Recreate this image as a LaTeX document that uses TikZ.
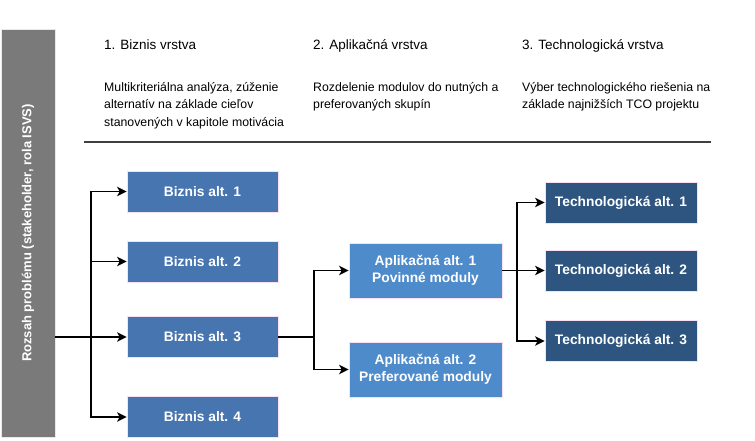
\documentclass[tikz,border=0pt]{standalone}
\usepackage{fontspec}
\setmainfont{Liberation Sans}
\usetikzlibrary{arrows.meta}
\definecolor{bizblue}{HTML}{4675B0}
\definecolor{appblue}{HTML}{4E8BCB}
\definecolor{techblue}{HTML}{2E5580}
\definecolor{bargray}{HTML}{7A7A7A}
\definecolor{edgepink}{HTML}{F8E0F1}
\begin{document}
\begin{tikzpicture}[x=1pt,y=-1pt,>={Stealth[length=9.5pt,width=9.5pt,inset=2.5pt]},
		alt/.style={draw=edgepink,line width=0.8pt,text=white,font=\bfseries\fontsize{13.8}{17.5}\selectfont,align=center,inner sep=0pt},
		biz/.style={alt,fill=bizblue,minimum width=151pt,minimum height=41pt},
		app/.style={alt,fill=appblue,minimum width=153pt,minimum height=55pt},
		tech/.style={alt,fill=techblue,minimum width=152pt,minimum height=41pt},
		layer/.style={anchor=base west,inner sep=0pt,font=\fontsize{13.5}{17}\selectfont},
		note/.style={anchor=north west,inner sep=0pt,align=left,font=\fontsize{12.3}{17.5}\selectfont},
		link/.style={line width=1.3pt}]
	\useasboundingbox (0,0) rectangle (755,440);
	\node[draw=edgepink,line width=0.8pt,fill=bargray,rotate=90,minimum width=408pt,minimum height=54pt,inner sep=0pt,text=white,font=\bfseries\fontsize{13}{15}\selectfont] (problem) at (28,233) {Rozsah problému (stakeholder, rola ISVS)};
	\node[layer] (bizlayer) at (104,49.5) {1. Biznis vrstva};
	\node[layer] (applayer) at (313,49.5) {2. Aplikačná vrstva};
	\node[layer] (techlayer) at (522,49.5) {3. Technologická vrstva};
	\node[note] (bizdesc) at (104,82) {Multikriteriálna analýza, zúženie\\alternatív na základe cieľov\\stanovených v kapitole motivácia};
	\node[note] (appdesc) at (313,82) {Rozdelenie modulov do nutných a\\preferovaných skupín};
	\node[note] (techdesc) at (522,82) {Výber technologického riešenia na\\základe najnižších TCO projektu};
	\draw[line width=1.5pt,black!75] (84,142)--(711,142);
	\foreach \i/\y in {1/191.5,2/261.5,3/337,4/417}
		{\node[biz] (biz\i) at (202.5,\y) {Biznis alt. \i};}
	\node[app] (app1) at (425.5,270.5) {Aplikačná alt. 1\\Povinné moduly};
	\node[app] (app2) at (425.5,369.5) {Aplikačná alt. 2\\Preferované moduly};
	\foreach \i/\y in {1/202.5,2/270.5,3/341}
		{\node[tech] (tech\i) at (621,\y) {Technologická alt. \i};}
	\coordinate (fork1) at (91,337);
	\coordinate (fork2) at (314,337);
	\coordinate (fork3) at (517,270.5);
	\draw[link] (problem.south |- fork1)--(fork1);
	\foreach \i in {1,2,3,4}
		{\draw[link,->] (fork1)|-(biz\i);}
	\draw[link] (biz3)--(fork2);
	\foreach \i in {1,2}
		{\draw[link,->] (fork2)|-(app\i);}
	\draw[link] (app1)--(fork3);
	\foreach \i in {1,2,3}
		{\draw[link,->] (fork3)|-(tech\i);}
\end{tikzpicture}
\end{document}
